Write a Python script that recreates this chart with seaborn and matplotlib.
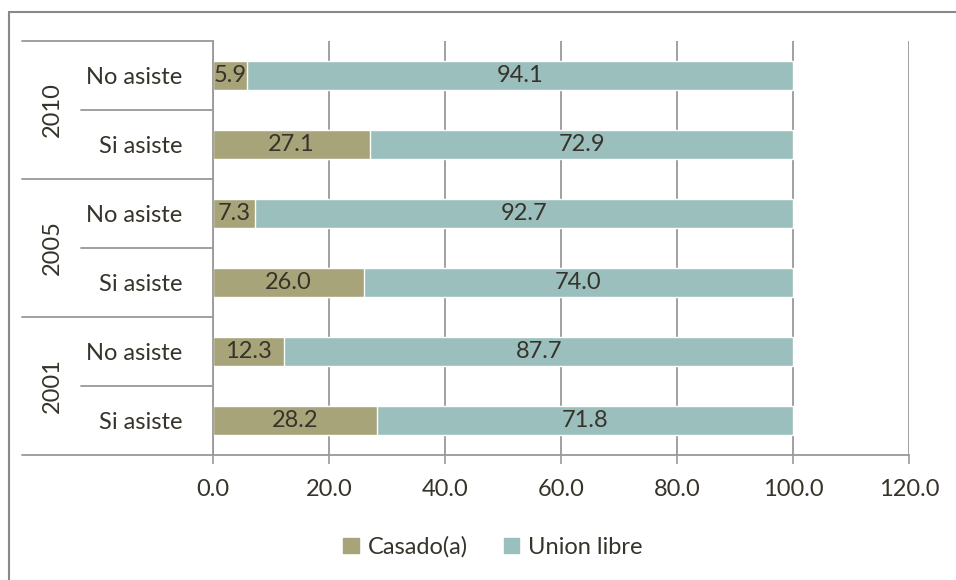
import matplotlib.pyplot as plt
import matplotlib.transforms as mtransforms
from matplotlib.lines import Line2D
from matplotlib.patches import Patch
import seaborn as sns
import pandas as pd

years = ['2010', '2010', '2005', '2005', '2001', '2001']
status = ['No asiste', 'Si asiste', 'No asiste', 'Si asiste', 'No asiste', 'Si asiste']
casado = [5.9, 27.1, 7.3, 26.0, 12.3, 28.2]
union_libre = [94.1, 72.9, 92.7, 74.0, 87.7, 71.8]
x_ticks = [0, 20, 40, 60, 80, 100, 120]

col_casado = '#a8a47a'
col_union = '#9bbfbd'
text_col = '#36332a'
line_col = '#999999'
fs = 17

sns.set_theme(style='white')
plt.rcParams['font.family'] = ['Lato', 'DejaVu Sans']
plt.rcParams['text.color'] = text_col

df = pd.DataFrame({'year': years, 'status': status,
                   'casado': casado, 'union': union_libre})
df['key'] = df['year'] + ' ' + df['status']
df['total'] = df['casado'] + df['union']

fig = plt.figure(figsize=(9.56, 5.80), dpi=100)
ax = fig.add_axes([213 / 956, 1 - 455 / 580, 696 / 956, 414 / 580])

sns.barplot(data=df, y='key', x='total', order=df['key'], color=col_union,
            orient='h', width=0.41, saturation=1, ax=ax)
sns.barplot(data=df, y='key', x='casado', order=df['key'], color=col_casado,
            orient='h', width=0.41, saturation=1, ax=ax)

for i, row in df.reset_index().iterrows():
    ax.text(row['casado'] / 2, i, f"{row['casado']:.1f}", ha='center', va='center',
            fontsize=fs, color=text_col)
    ax.text(row['casado'] + row['union'] / 2, i, f"{row['union']:.1f}",
            ha='center', va='center', fontsize=fs, color=text_col)

ax.set_xlim(0, 120)
ax.set_ylim(5.5, -0.5)
ax.set_xticks(x_ticks)
ax.set_xticklabels([f'{v:.1f}' for v in x_ticks], fontsize=fs, color=text_col)
ax.set_yticks(range(len(status)))
ax.set_yticklabels(status, fontsize=fs, color=text_col)
ax.set_xlabel('')
ax.set_ylabel('')
ax.tick_params(axis='x', length=6.5, width=1.2, color=line_col, pad=10.5, bottom=True)
ax.tick_params(axis='y', length=0, pad=22)
for t in ax.get_yticklabels():
    t.set_horizontalalignment('right')

ax.xaxis.grid(True, color=line_col, linewidth=1.3)
ax.set_axisbelow(True)
for side in ['top', 'right']:
    ax.spines[side].set_visible(False)
for side in ['left', 'bottom']:
    ax.spines[side].set_color(line_col)
    ax.spines[side].set_linewidth(1.3)

# grouped category axis: year labels and separators
tr = mtransforms.blended_transform_factory(ax.transAxes, ax.transData)
for y in [-0.5, 1.5, 3.5, 5.5]:
    ax.add_line(Line2D([-0.2744, 0], [y, y], transform=tr, color=line_col,
                       linewidth=1.3, clip_on=False))
for y in [0.5, 2.5, 4.5]:
    ax.add_line(Line2D([-0.1897, 0], [y, y], transform=tr, color=line_col,
                       linewidth=1.3, clip_on=False))
for i, yr in enumerate(['2010', '2005', '2001']):
    ax.text(-0.2313, 2 * i + 0.5, yr, transform=tr, rotation=90, ha='center',
            va='center', fontsize=fs, color=text_col)

handles = [Patch(color=col_casado, label='Casado(a)'),
           Patch(color=col_union, label='Union libre')]
fig.legend(handles=handles, loc='center', bbox_to_anchor=(493 / 956, 1 - 547 / 580),
           ncol=2, frameon=False, fontsize=fs, handlelength=0.65, handleheight=0.65,
           handletextpad=0.4, columnspacing=1.5)

# chart border (left and top edges visible)
fig.add_artist(Line2D([9 / 956, 9 / 956], [0, 1 - 12 / 580], color='#888888', linewidth=1.5))
fig.add_artist(Line2D([9 / 956, 1], [1 - 12 / 580, 1 - 12 / 580], color='#888888', linewidth=1.5))

fig.savefig('out.png', dpi=100)
